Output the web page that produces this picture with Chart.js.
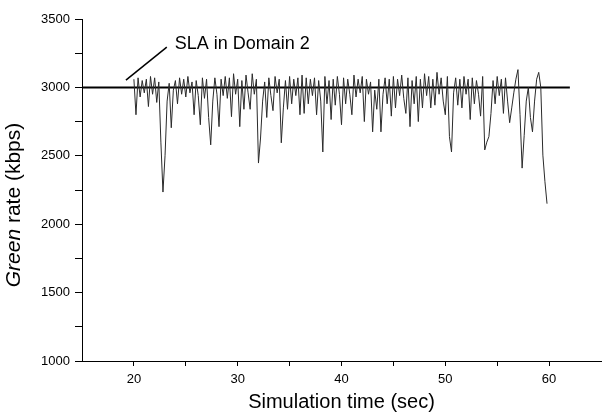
<!DOCTYPE html>
<html><head><meta charset="utf-8">
<script src="https://cdn.jsdelivr.net/npm/chart.js@4.4.0/dist/chart.umd.min.js"></script>
<style>html,body{margin:0;padding:0;background:#fff}#wrap{width:603px;height:417px}</style>
</head><body><div id="wrap"><canvas id="c" width="603" height="417"></canvas></div>
<script>
// ---- data ----
const times = [
20,20.2,20.4,20.6,20.8, 21,21.2,21.4,21.6,21.8, 22,22.2,22.4,22.6,22.8, 23,23.2,23.4,23.6,23.8,
24,24.2,24.4,24.6,24.8, 25,25.2,25.4,25.6,25.8, 26,26.2,26.4,26.6,26.8, 27,27.2,27.4,27.6,27.8,
28,28.2,28.4,28.6,28.8, 29,29.2,29.4,29.6,29.8, 30,30.2,30.4,30.6,30.8, 31,31.2,31.4,31.6,31.8,
32,32.2,32.4,32.6,32.8, 33,33.2,33.4,33.6,33.8, 34,34.2,34.4,34.6,34.8, 35,35.2,35.4,35.6,35.8,
36,36.2,36.4,36.6,36.8, 37,37.2,37.4,37.6,37.8, 38,38.2,38.4,38.6,38.8, 39,39.2,39.4,39.6,39.8,
40,40.2,40.4,40.6,40.8, 41,41.2,41.4,41.6,41.8, 42,42.2,42.4,42.6,42.8, 43,43.2,43.4,43.6,43.8,
44,44.2,44.4,44.6,44.8, 45,45.2,45.4,45.6,45.8, 46,46.2,46.4,46.6,46.8, 47,47.2,47.4,47.6,47.8,
48,48.2,48.4,48.6,48.8, 49,49.2,49.4,49.6,49.8, 50,50.2,50.4,50.6,50.8, 51,51.2,51.4,51.6,51.8,
52,52.2,52.4,52.6,52.8, 53,53.2,53.4,53.6,53.8, 54,54.2,54.4,54.6,54.8, 55,55.2,55.4,55.6,55.8,
56,56.2,56.4,56.6,56.8, 57,57.2,57.4,57.6,57.8, 58,58.2,58.4,58.6,58.8, 59,59.2,59.4,59.6,59.8
];
const greenRate = [
3060,2800,3070,2930,3050, 2960,3060,2860,3080,2950, 3070,2890,3040,2600,2235, 2500,2900,3030,2705,2980,
3050,2880,3070,2950,3060, 2930,3080,2960,3040,2800, 3050,2940,2727,3070,2920, 3060,2780,2580,2900,3070,
2950,2713,3060,2940,3080, 2920,3070,2786,3100,2950, 3060,2713,3050,2840,3090, 2960,2840,3100,2950,3060,
2447,2630,2900,3040,2780, 3070,2940,2830,3080,2960, 3060,2595,2850,3050,2840, 3080,2880,3060,2940,3070,
2800,3090,2810,3070,2880, 3060,2940,3070,2800,3050, 2900,2528,3080,2880,3050, 2765,3060,2870,3080,2950,
2727,3070,2880,3060,2950, 2800,3090,2930,3060,2960, 3080,2750,3060,2950,3040, 2675,2980,2840,3060,2675,
2950,3070,2880,3060,2790, 3080,2850,3060,2940,3090, 2920,2810,3070,2713,3050, 2880,3080,2750,3060,2850,
3100,2940,3080,2850,3060, 2870,3110,2950,3070,2900, 2800,3080,2640,2528,2960, 3070,2870,3060,2850,3080,
2950,3060,2765,3070,2880, 3050,2950,2790,3080,2543, 2600,2640,2810,3050,2880, 3080,2940,3060,2810,3070,
2900,2742,2850,2960,3060, 3130,2800,2410,2650,2900, 3000,2780,2675,2900,3060, 3110,3000,2505,2310,2150
];
const slaTimes = [15, 62];
const slaRate = [3000, 3000];
const leaderTimes = [19.23, 23.17];
const leaderRate = [3053, 3295];
const annotationText = "SLA in Domain 2";
const annotationAt = [23.94, 3280];
const xTickValues = [20,25,30,35,40,45,50,55,60];
const xTickLabels = [20,30,40,50,60];
const yTickValues = [1000,1250,1500,1750,2000,2250,2500,2750,3000,3250,3500];
const yTickLabels = [1000,1500,2000,2500,3000,3500];
const xTitle = "Simulation time (sec)";
const yTitleItalic = "Green";
const yTitleRest = " rate (kbps)";

// ---- chart ----
const zip = (xs, ys) => xs.map((x, i) => ({x, y: ys[i]}));
const FONT = "'Liberation Sans', Arial, sans-serif";

const textPlugin = {
  id: 'texts',
  afterDraw(chart) {
    const ctx = chart.ctx, a = chart.chartArea;
    const xs = chart.scales.x, ys = chart.scales.y;
    ctx.save();
    ctx.fillStyle = '#000';
    // x title
    ctx.font = "20px " + FONT;
    ctx.textAlign = 'center';
    ctx.textBaseline = 'alphabetic';
    ctx.fillText(xTitle, (a.left + a.right) / 2, 408);
    // y title (rotated, first word italic)
    ctx.save();
    ctx.translate(20, 205);
    ctx.rotate(-Math.PI / 2);
    ctx.textAlign = 'left';
    ctx.font = "italic 21px " + FONT;
    const w1 = ctx.measureText(yTitleItalic).width;
    ctx.font = "21px " + FONT;
    const w2 = ctx.measureText(yTitleRest).width;
    const start = -(w1 + w2) / 2;
    ctx.font = "italic 21px " + FONT;
    ctx.fillText(yTitleItalic, start, 0);
    ctx.font = "21px " + FONT;
    ctx.fillText(yTitleRest, start + w1, 0);
    ctx.restore();
    // annotation
    ctx.font = "18px " + FONT;
    ctx.textAlign = 'left';
    ctx.fillText(annotationText, xs.getPixelForValue(annotationAt[0]), ys.getPixelForValue(annotationAt[1]));
    ctx.restore();
  }
};

new Chart(document.getElementById('c'), {
  type: 'scatter',
  data: {
    datasets: [
      {data: zip(times, greenRate), showLine: true, borderColor: '#2a2a2a', borderWidth: 1, pointRadius: 0, tension: 0},
      {data: zip(slaTimes, slaRate), showLine: true, borderColor: '#000', borderWidth: 2, pointRadius: 0},
      {data: zip(leaderTimes, leaderRate), showLine: true, borderColor: '#000', borderWidth: 1.5, pointRadius: 0}
    ]
  },
  options: {
    responsive: false,
    animation: false,
    layout: {padding: {left: 0, right: 2, top: 19, bottom: 0}},
    plugins: {legend: {display: false}, tooltip: {enabled: false}},
    scales: {
      x: {
        type: 'linear', min: 15, max: 65,
        afterBuildTicks: s => { s.ticks = xTickValues.map(v => ({value: v})); },
        afterFit: s => { s.height = 56; },
        ticks: {
          callback: v => xTickLabels.includes(v) ? String(v) : '',
          font: {family: FONT, size: 13}, color: '#000', padding: 6,
          maxRotation: 0, autoSkip: false
        },
        grid: {drawOnChartArea: false, drawTicks: true, tickLength: 5, color: '#000'},
        border: {color: '#000', width: 1}
      },
      y: {
        type: 'linear', min: 1000, max: 3500,
        afterBuildTicks: s => { s.ticks = yTickValues.map(v => ({value: v})); },
        afterFit: s => { s.width = 82; },
        ticks: {
          callback: v => yTickLabels.includes(v) ? String(v) : '',
          font: {family: FONT, size: 13}, color: '#000', padding: 5,
          autoSkip: false
        },
        grid: {drawOnChartArea: false, drawTicks: true, tickLength: 7, color: '#000'},
        border: {color: '#000', width: 1}
      }
    }
  },
  plugins: [textPlugin]
});
</script>
</body></html>
